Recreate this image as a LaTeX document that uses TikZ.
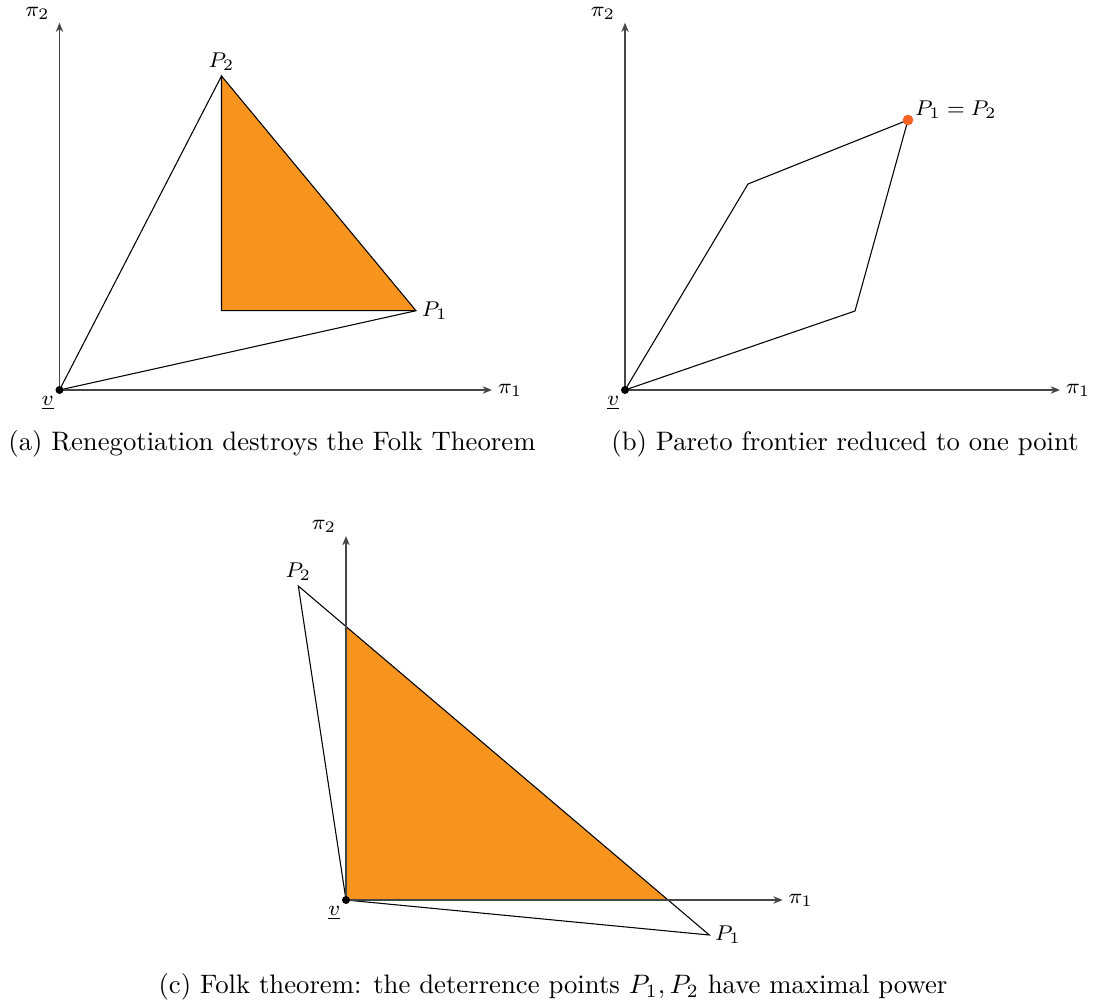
\documentclass[tikz,border=0pt]{standalone}
\usepackage{xcolor}
\usepackage{tikz}
\usetikzlibrary{arrows.meta, calc}
\definecolor{fillorange}{RGB}{247,148,30}
\definecolor{dotorange}{RGB}{242,101,34}
\definecolor{axisgray}{RGB}{70,70,70}

\begin{document}
\begin{tikzpicture}[x=0.3745pt, y=-0.3745pt,
  axis/.style={draw=axisgray, line width=0.5pt, -{Stealth[length=3.5pt, width=2.8pt]}},
  bound/.style={draw=black, line width=0.4pt},
  lbl/.style={font=\fontsize{8.4}{10}\selectfont, inner sep=2pt},
  ylbl/.style={lbl, above left, inner sep=1pt, xshift=-2.5pt},
  captext/.style={font=\normalsize, inner sep=0pt},
  vdot/.style={circle, fill=black, inner sep=0pt, minimum size=3pt}
]
\useasboundingbox (0,0) rectangle (1097,1007);

% (a) renegotiation
\coordinate (va) at (59.5,390);
\coordinate (ya) at (59.5,22.7);
\coordinate (xa) at (492,390);
\coordinate (P2a) at (221.5,76);
\coordinate (P1a) at (416,310.7);

\fill[fillorange] (P2a) -- (P1a) -- (P2a |- P1a) -- cycle;
\draw[bound] (P2a) -- (P1a) -- (P2a |- P1a) -- cycle;
\draw[bound] (va) -- (P2a);
\draw[bound] (va) -- (P1a);
\draw[axis] (va) -- (ya) node[ylbl] {$\pi_2$};
\draw[axis] (va) -- (xa) node[lbl, right] {$\pi_1$};
\node[vdot] (oa) at (va) {};
\node[lbl, below left] (la) at (va) {$\underline{v}$};
\node[lbl, above] (lP2a) at (P2a) {$P_2$};
\node[lbl, right] (lP1a) at (P1a) {$P_1$};

% (b) pareto frontier
\coordinate (vb) at (625,390);
\coordinate (yb) at (625,22.7);
\coordinate (xb) at (1060,390);
\coordinate (kup) at (748,184);
\coordinate (klow) at (855,311);
\coordinate (Pb) at (908,120);

\draw[bound] (vb) -- (kup) -- (Pb) -- (klow) -- cycle;
\draw[axis] (vb) -- (yb) node[ylbl] {$\pi_2$};
\draw[axis] (vb) -- (xb) node[lbl, right] {$\pi_1$};
\node[vdot] (ob) at (vb) {};
\node[lbl, below left] (lb) at (vb) {$\underline{v}$};
\node[circle, fill=dotorange, inner sep=0pt, minimum size=4pt] (dot) at (Pb) {};
\node[lbl, above right, inner sep=0.5pt, xshift=2pt] (lPb) at (Pb) {$P_1 = P_2$};

% (c) folk theorem
\coordinate (vc) at (346,900);
\coordinate (yc) at (346,536);
\coordinate (xc) at (782.7,900);
\coordinate (P2c) at (298.3,586);
\coordinate (P1c) at (709.3,935);

\begin{scope}
  \clip (vc) rectangle (xc |- yc);
  \fill[fillorange] (vc) -- (P2c) -- (P1c) -- cycle;
\end{scope}
\draw[bound] (vc) -- (P2c) -- (P1c) -- cycle;
\draw[axis] (vc) -- (yc) node[ylbl] {$\pi_2$};
\draw[axis] (vc) -- (xc) node[lbl, right] {$\pi_1$};
\node[vdot] (oc) at (vc) {};
\node[lbl, below left] (lc) at (vc) {$\underline{v}$};
\node[lbl, above] (lP2c) at (P2c) {$P_2$};
\node[lbl, right] (lP1c) at (P1c) {$P_1$};

% captions
\node[captext] (capa) at (272,444) {(a) Renegotiation destroys the Folk Theorem};
\node[captext] (capb) at (845,444) {(b) Pareto frontier reduced to one point};
\node[captext] (capc) at (553,987) {(c) Folk theorem: the deterrence points $P_1, P_2$ have maximal power};
\end{tikzpicture}
\end{document}
